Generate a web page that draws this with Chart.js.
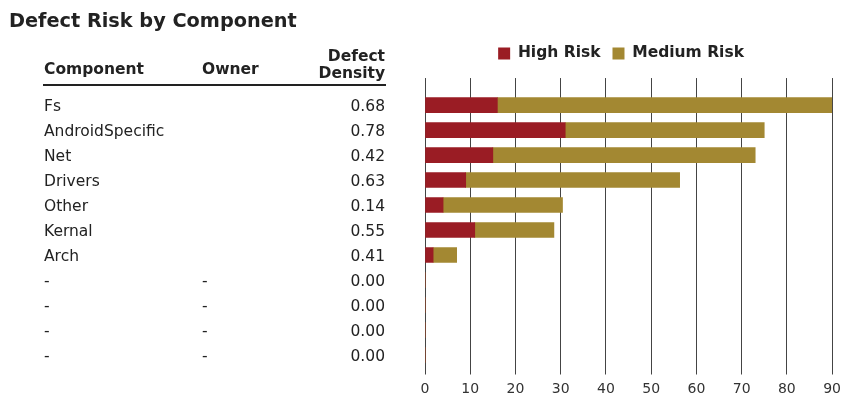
<!DOCTYPE html>
<html>
<head>
<meta charset="utf-8">
<title>Defect Risk by Component</title>
<script src="https://cdn.jsdelivr.net/npm/chart.js@4/dist/chart.umd.min.js"></script>
<style>
  html, body { margin: 0; padding: 0; background: #fff; }
  #chartWrap { position: relative; width: 841px; height: 397px; }
</style>
</head>
<body>
<div id="chartWrap"><canvas id="riskChart"></canvas></div>
<script>
// --- data ---
const components = ['Fs', 'AndroidSpecific', 'Net', 'Drivers', 'Other', 'Kernal', 'Arch', '-', '-', '-', '-'];
const owners = ['', '', '', '', '', '', '', '-', '-', '-', '-'];
const defectDensity = [0.68, 0.78, 0.42, 0.63, 0.14, 0.55, 0.41, 0, 0, 0, 0];
const highRisk = [16, 31, 15, 9, 4, 11, 1.8, 0, 0, 0, 0];
const mediumRisk = [74, 44, 58, 47.3, 26.4, 17.5, 5.2, 0, 0, 0, 0];
const xTickValues = [0, 10, 20, 30, 40, 50, 60, 70, 80, 90];

const FONT = '"DejaVu Sans", Verdana, sans-serif';
Chart.defaults.font.family = FONT;
Chart.defaults.color = '#222';

// table columns on the left of the bars
const COL_NAME = 44;
const COL_OWNER = 202;
const COL_DENSITY = 385;
const TABLE_FONT = 15.5;

const useTickValues = scale => {
    scale.ticks = xTickValues.map(v => ({ value: v }));
};

// draws the Component / Owner / Defect Density table, one row per bar
const tablePlugin = {
    id: 'componentTable',
    afterLayout(chart) {
        // legend sits a little left of the plot centre in the original
        chart.legend.left -= 7.5;
        chart.legend.right -= 7.5;
    },
    afterDraw(chart) {
        const { ctx, scales: { y } } = chart;
        ctx.save();
        ctx.fillStyle = '#222';
        ctx.textBaseline = 'alphabetic';

        ctx.font = 'bold ' + TABLE_FONT + 'px ' + FONT;
        ctx.textAlign = 'left';
        ctx.fillText('Component', COL_NAME, 73.5);
        ctx.fillText('Owner', COL_OWNER, 73.5);
        ctx.textAlign = 'right';
        ctx.fillText('Defect', COL_DENSITY, 61);
        ctx.fillText('Density', COL_DENSITY, 78);
        ctx.fillRect(COL_NAME - 1, 84, COL_DENSITY - COL_NAME + 2, 2);

        ctx.font = TABLE_FONT + 'px ' + FONT;
        components.forEach((name, i) => {
            const rowY = y.getPixelForValue(i) + 6;
            ctx.textAlign = 'left';
            ctx.fillText(name, COL_NAME, rowY);
            ctx.fillText(owners[i], COL_OWNER, rowY);
            ctx.textAlign = 'right';
            ctx.fillText(defectDensity[i].toFixed(2), COL_DENSITY, rowY);
        });
        ctx.restore();
    }
};

const riskChart = new Chart(document.getElementById('riskChart'), {
    type: 'bar',
    data: {
        labels: components,
        datasets: [
            { label: 'High Risk', data: highRisk, backgroundColor: '#9a1c24', barThickness: 15 },
            { label: 'Medium Risk', data: mediumRisk, backgroundColor: '#a38832', barThickness: 15 }
        ]
    },
    options: {
        indexAxis: 'y',
        responsive: true,
        maintainAspectRatio: false,
        animation: false,
        layout: { padding: { left: 9, right: 0, top: 0, bottom: 0 } },
        plugins: {
            title: {
                display: true,
                text: 'Defect Risk by Component',
                align: 'start',
                color: '#222',
                font: { size: 19.3, weight: 'bold' },
                padding: { top: 10.5, bottom: 0 }
            },
            legend: {
                fullSize: false,
                labels: {
                    boxWidth: 12,
                    boxHeight: 12,
                    padding: 12,
                    color: '#222',
                    font: { size: 15.5, weight: 'bold' }
                }
            },
            tooltip: { enabled: false }
        },
        scales: {
            x: {
                stacked: true,
                min: 0,
                max: 90,
                afterBuildTicks: useTickValues,
                afterFit: scale => { scale.height = 29.5; },
                grid: { color: '#444', tickColor: '#444', tickLength: 7 },
                border: { display: false },
                ticks: { color: '#333', padding: 0, font: { size: 14, lineHeight: 2.07 } }
            },
            xTop: {
                axis: 'x',
                position: 'top',
                min: 0,
                max: 90,
                afterBuildTicks: useTickValues,
                afterFit: scale => { scale.height = 21.4; },
                grid: { drawOnChartArea: false, color: '#444', tickColor: '#444', tickLength: 14.5 },
                border: { display: false },
                ticks: { display: false }
            },
            y: {
                stacked: true,
                afterFit: scale => { scale.width = 416; },
                grid: { display: false },
                border: { display: false },
                ticks: { display: false }
            }
        }
    },
    plugins: [tablePlugin]
});
</script>
</body>
</html>
